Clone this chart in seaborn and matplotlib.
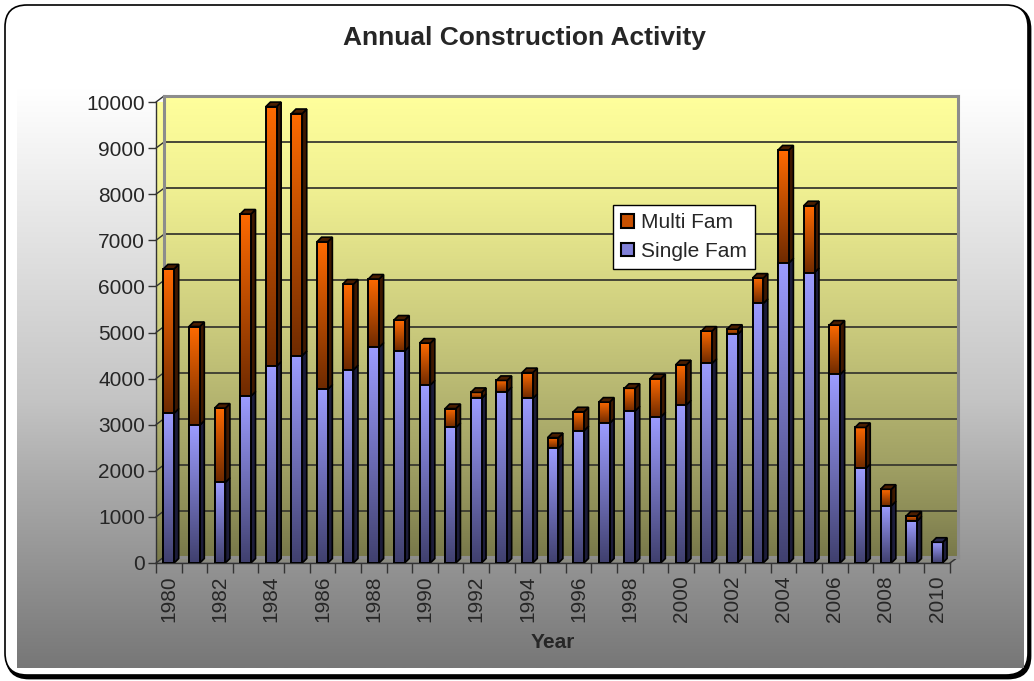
import numpy as np
import pandas as pd
import matplotlib
matplotlib.use("Agg")
import matplotlib.pyplot as plt
from matplotlib.colors import to_rgb
from matplotlib.patches import Polygon, Patch, FancyBboxPatch
from matplotlib.transforms import IdentityTransform
import seaborn as sns

# ---- data -------------------------------------------------------------
years = list(range(1980, 2011))
single_fam = [3250, 2990, 1750, 3620, 4270, 4500, 3770, 4190, 4680, 4600,
              3860, 2940, 3570, 3720, 3570, 2490, 2870, 3030, 3300, 3170,
              3430, 4330, 4960, 5630, 6510, 6300, 4090, 2050, 1240, 910, 450]
multi_fam = [3130, 2140, 1610, 3950, 5630, 5250, 3200, 1860, 1480, 670,
             910, 410, 130, 240, 560, 230, 410, 460, 490, 830,
             870, 700, 110, 550, 2450, 1450, 1070, 890, 360, 110, 0]
y_ticks = list(range(0, 10001, 1000))
label_years = years[::2]

df = pd.DataFrame({"Year": [str(y) for y in years],
                   "Single Fam": single_fam,
                   "Multi Fam": multi_fam})
df["Total"] = df["Single Fam"] + df["Multi Fam"]

# ---- styling ----------------------------------------------------------
sns.set_theme(style="white")
plt.rcParams["font.family"] = ["Liberation Sans", "DejaVu Sans"]

W, H = 1034, 681
fig = plt.figure(figsize=(W / 100, H / 100), dpi=100)


def frac(left, top, right, bottom):
    return [left / W, 1 - bottom / H, (right - left) / W, (bottom - top) / H]


def ramp(stops_pos, stops_col, positions):
    cols = np.array([to_rgb(c) for c in stops_col])
    return np.stack([np.interp(positions, stops_pos, cols[:, k]) for k in range(3)], axis=-1)


# frame and page background (pixel coordinates)
bg = fig.add_axes([0, 0, 1, 1], zorder=0)
bg.set_xlim(0, W)
bg.set_ylim(H, 0)
bg.axis("off")
bg.add_patch(FancyBboxPatch((7, 7), 1023, 671, boxstyle="round,pad=0,rounding_size=22",
                            facecolor="black", edgecolor="black", lw=2, zorder=1))
bg.add_patch(FancyBboxPatch((5, 5), 1023, 670, boxstyle="round,pad=0,rounding_size=22",
                            facecolor="white", edgecolor="black", lw=1.2, zorder=1.5))
ys = np.linspace(17, 668, 400)
page = ramp([17, 90, 400, 480, 668], ["#ffffff", "#ffffff", "#c4c4c4", "#ababab", "#777777"], ys)
bg.imshow(page[:, None, :], extent=(17, 1024, 668, 17), origin="upper",
          aspect="auto", interpolation="bilinear", zorder=2)

wall_pos = [0, 1000, 2000, 5000, 8000, 10000]
wall_col = ["#78784a", "#8e8e58", "#a0a064", "#cbcb7d", "#f0f092", "#ffff9c"]

# back wall with gridlines
wall = fig.add_axes(frac(164, 96, 958, 557), zorder=1)
vals = np.linspace(0, 10000, 400)
wall.imshow(ramp(wall_pos, wall_col, vals)[:, None, :], extent=(-0.5, 30.5, 0, 10000),
            origin="lower", aspect="auto", interpolation="bilinear")
for v in y_ticks[1:-1]:
    wall.axhline(v, color="#3a3a30", lw=1.3)
wall.set_xlim(-0.5, 30.5)
wall.set_ylim(0, 10000)
wall.set_xticks([])
wall.set_yticks([])
for s in wall.spines.values():
    s.set_color("#8c8c8c")
    s.set_linewidth(2.2)

# front axes holding the bars
ax = fig.add_axes(frac(156, 102, 950, 563), zorder=2)
ax.patch.set_alpha(0)

sns.barplot(data=df, x="Year", y="Total", color="#ff6600", saturation=1,
            width=0.42, edgecolor="black", linewidth=1.4, ax=ax, zorder=3)
multi_bars = list(ax.patches)
sns.barplot(data=df, x="Year", y="Single Fam", color="#9999ff", saturation=1,
            width=0.42, edgecolor="black", linewidth=1.4, ax=ax, zorder=5)
single_bars = list(ax.patches)[len(multi_bars):]

ax.set_xlim(-0.5, 30.5)
ax.set_ylim(0, 10000)


def shade(bar, y0, y1, top_c, bot_c, z):
    x0 = bar.get_x()
    x1 = x0 + bar.get_width()
    img = ax.imshow(ramp([0, 1], [bot_c, top_c], np.linspace(0, 1, 128))[:, None, :],
                    extent=(x0, x1, y0, y1), origin="lower", aspect="auto",
                    interpolation="bilinear", zorder=z)
    img.set_clip_path(bar)
    bar.set_facecolor("none")


for i, (mb, sb) in enumerate(zip(multi_bars, single_bars)):
    s = single_fam[i]
    t = s + multi_fam[i]
    if multi_fam[i] > 0:
        shade(mb, s, t, "#ff6a00", "#6e2a00", 2.9)
    shade(sb, 0, s, "#9c9cff", "#40406e", 4.9)

ax.set_xlim(-0.5, 30.5)
ax.set_ylim(0, 10000)

# depth faces of each column (side and top), built in display space
dx, dy = 4.5, 4.5
T = ax.transData
for i, mb in enumerate(multi_bars):
    s = single_fam[i]
    t = s + multi_fam[i]
    x0 = mb.get_x()
    x1 = x0 + mb.get_width()
    segs = [(0, s, "#1c1c3a"), (s, t, "#3e1800")]
    for ya, yb, col in segs:
        if yb <= ya:
            continue
        X1, Ya = T.transform((x1, ya))
        _, Yb = T.transform((x1, yb))
        ax.add_patch(Polygon([(X1, Ya), (X1 + dx, Ya + dy), (X1 + dx, Yb + dy), (X1, Yb)],
                             closed=True, facecolor=col, edgecolor="black", lw=1.2,
                             transform=IdentityTransform(), zorder=2, clip_on=False))
    X0, Yt = T.transform((x0, t))
    X1, _ = T.transform((x1, t))
    top_col = "#4a1e00" if multi_fam[i] > 0 else "#26264a"
    ax.add_patch(Polygon([(X0, Yt), (X1, Yt), (X1 + dx, Yt + dy), (X0 + dx, Yt + dy)],
                         closed=True, facecolor=top_col, edgecolor="black", lw=1.2,
                         transform=IdentityTransform(), zorder=6, clip_on=False))


# side wall, floor and tick connectors (pixel coordinates on the page axes)
def to_page(x, v):
    X, Y = T.transform((x, v))
    return X, H - Y


fl, fb = to_page(-0.5, 0)
fr, _ = to_page(30.5, 0)
_, ft = to_page(-0.5, 10000)
off_x, off_y = 8, -6
left_wall = Polygon([(fl, ft), (fl + off_x, ft + off_y), (fl + off_x, fb + off_y), (fl, fb)],
                    closed=True, facecolor="none", edgecolor="none", zorder=3)
bg.add_patch(left_wall)
pix = np.linspace(ft, fb, 200)
lw_img = bg.imshow(ramp(wall_pos, wall_col, 10000 * (fb - pix) / (fb - ft))[:, None, :],
                   extent=(fl, fl + off_x, fb, ft), origin="upper", aspect="auto", zorder=3)
lw_img.set_clip_path(left_wall)
bg.add_patch(Polygon([(fl, fb), (fr, fb), (fr + off_x, fb + off_y), (fl + off_x, fb + off_y)],
                     closed=True, facecolor="#8a8a80", edgecolor="#777777", lw=1, zorder=3))
for v in y_ticks:
    px, py = to_page(-0.5, v)
    bg.plot([px, px + off_x], [py, py + off_y], color="#333333", lw=1, zorder=4)
bg.plot([fr, fr + off_x], [fb, fb + off_y], color="#333333", lw=1, zorder=4)
bg.plot([fl + off_x, fl + off_x], [ft + off_y, fb + off_y], color="#8c8c8c", lw=2, zorder=4)
bg.set_xlim(0, W)
bg.set_ylim(H, 0)

# axes decoration
for side in ("top", "right"):
    ax.spines[side].set_visible(False)
ax.spines["left"].set_color("#333333")
ax.spines["bottom"].set_color("#333333")
ax.spines["left"].set_linewidth(1)
ax.spines["bottom"].set_linewidth(1)

ax.set_yticks(y_ticks)
ax.set_yticklabels([str(v) for v in y_ticks], fontsize=15)
ax.tick_params(axis="y", which="major", direction="out", length=6, width=1,
               color="#333333", pad=2, left=True)
ax.set_xticks(range(0, len(years), 2))
ax.set_xticklabels([str(y) for y in label_years], rotation=90, fontsize=15)
ax.set_xticks(np.arange(-0.5, len(years), 1), minor=True)
ax.tick_params(axis="x", which="major", length=0, pad=9)
ax.tick_params(axis="x", which="minor", direction="out", length=7, width=1,
               color="#333333", bottom=True)
ax.set_ylabel("")
ax.set_xlabel("Year", fontsize=15, fontweight="bold", labelpad=8)
ax.grid(False)

fig.text(524 / W, 1 - 38 / H, "Annual Construction Activity", ha="center", va="center",
         fontsize=19, fontweight="bold")

handles = [Patch(facecolor="#c85000", edgecolor="black", lw=1.5, label="Multi Fam"),
           Patch(facecolor="#8080d8", edgecolor="black", lw=1.5, label="Single Fam")]
leg = fig.legend(handles=handles, loc="upper left", bbox_to_anchor=(613 / W, 1 - 205 / H),
                 fontsize=15, frameon=True, fancybox=False, framealpha=1,
                 handlelength=0.6, handleheight=0.6, handletextpad=0.35,
                 labelspacing=0.45, borderpad=0.4, borderaxespad=0)
leg.get_frame().set_edgecolor("black")
leg.get_frame().set_linewidth(1)
leg.get_frame().set_facecolor("white")
leg.set_zorder(10)

fig.savefig("out.png", dpi=100)
